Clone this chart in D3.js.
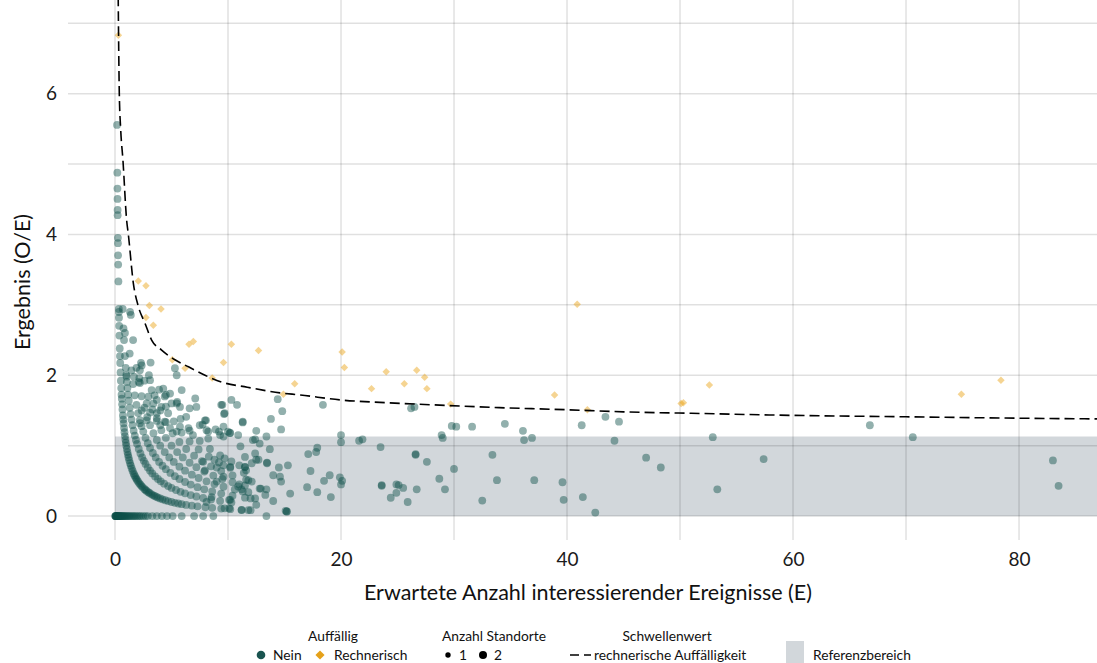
<!DOCTYPE html>
<html><head><meta charset="utf-8">
<script src="https://cdn.jsdelivr.net/npm/d3@7"></script>
<style>
body{margin:0;background:#fff}
svg{display:block}
text{font-family:Lato,"Open Sans",sans-serif}
</style>
</head><body>
<svg id="chart" width="1097" height="663"></svg>
<script>
// ---------------- data ----------------
const xTickValues = [0, 20, 40, 60, 80];
const yTickValues = [0, 2, 4, 6];
const xTitle = "Erwartete Anzahl interessierender Ereignisse (E)";
const yTitle = "Ergebnis (O/E)";

// Reference range (Referenzbereich) for O/E
const refLower = 0;
const refUpper = 1.13;

// "Nein" sites lying on the O/E = n/E curves: expected counts E per observed count O
const obs0E = [0.02,0.04,0.06,0.08,0.1,0.13,0.16,0.19,0.22,0.26,0.3,0.34,0.38,0.43,0.48,0.53,0.6,0.66,0.72,0.8,0.88,0.95,1.05,1.15,1.25,1.35,1.48,1.6,1.72,1.85,2.0,2.15,2.3,2.5,2.7,2.9,3.3,3.7,4.15,4.6,5.1,5.9,7.0,7.8,8.7,13.4];
const obs1E = [0.18,0.205,0.215,0.222,0.23,0.234,0.253,0.258,0.27,0.28,0.3,0.34,0.345,0.355,0.37,0.39,0.42,0.44,0.46,0.49,0.52,0.55,0.58,0.6,0.63,0.66,0.7,0.73,0.76,0.8,0.84,0.88,0.92,0.96,1.0,1.05,1.1,1.15,1.2,1.26,1.33,1.4,1.48,1.56,1.65,1.72,1.8,1.88,1.95,2.05,2.15,2.25,2.35,2.45,2.6,2.7,2.8,2.95,3.05,3.2,3.35,3.5,3.65,3.8,4.0,4.2,4.45,4.7,5.0,5.3,5.6,5.9,6.3,6.8,7.3,8.0,8.6,9.4,10.2,11.2,12.0,15.2];
const obs2E = [0.68,0.75,0.8,0.88,0.95,1.0,1.05,1.1,1.16,1.22,1.3,1.38,1.46,1.55,1.65,1.75,1.85,1.95,2.1,2.25,2.4,2.55,2.7,2.9,3.1,3.3,3.55,3.8,4.05,4.35,4.7,5.0,5.4,5.8,6.2,6.7,7.2,7.8,8.5,9.3,10.3,12.5];
const obs3E = [1.3,1.45,1.6,1.75,1.9,2.05,2.2,2.35,2.5,2.7,2.9,3.1,3.35,3.6,3.9,4.2,4.5,4.9,5.3,5.7,6.2,6.7,7.3,7.9,8.6,9.4,10.4,11.5,14.0];
const obs4E = [1.4,1.6,1.9,2.1,2.35,2.6,2.85,3.1,3.4,3.7,4.0,4.4,4.8,5.2,5.7,6.2,6.8,7.4,8.1,8.8,9.6,10.6,11.8,13.3];
const obs5E = [2.3,2.6,2.95,3.3,3.7,4.1,4.5,5.0,5.5,6.0,6.6,7.2,7.9,8.7,9.5,10.4,11.5,12.8];
const obs6E = [3.0,3.5,4.0,4.5,5.1,5.7,6.3,7.0,7.7,8.5,9.4,10.4,11.6];
const obs7E = [3.9,4.5,5.2,5.9,6.6,7.4,8.3,9.2,10.2,11.4];
const obs8E = [5.0,5.8,6.6,7.5,8.4,9.3,10.3,11.5];
const curveObs = [0, 1, 2, 3, 4, 5, 6, 7, 8];
const curveE = [obs0E, obs1E, obs2E, obs3E, obs4E, obs5E, obs6E, obs7E, obs8E];

// Other "Nein" sites: expected count E and result O/E
const neinE  = [1.33,0.88,2.36,2.2,3.15,2.15,2.2,1.68,1.03,3.1,3.24,4.27,4.87,4.5,5.46,5.3,5.5,5.9,7.1,7.2,6.6,6.3,3.7,3.1,2.8,4.0,2.2,9.4,9.7,10.8,11.3,10.2,9.6,9.3,7.96,7.5,8.25,6.5,6.9,5.75,5.46,4.4,4.7,4.87,3.7,3.4,4.1,3.7,2.8,2.36,4.4,5.46,5.75,
  9.5,10.3,9.65,11.3,8.05,7.75,8.9,9.2,8.1,8.25,10.15,12.5,12.4,12.8,13.4,13.8,14.4,14.8,14.7,13.7,11.1,9.7,8.8,7.8,9.0,7.96,9.6,11.5,12.1,12.7,13.45,13.45,12.4,14.5,15.3,14.0,14.6,14.7,15.5,13.4,12.1,11.0,11.2,12.9,12.0,11.2,11.8,10.1,10.1,15.1,15.2,
  9.6,10.0,10.9,11.5,11.0,11.6,12.2,12.5,11.8,10.9,11.3,12.4,10.2,9.7,8.55,8.1,9.0,9.6,10.2,
  18.4,20.0,20.0,17.1,17.8,17.9,17.3,17.0,17.9,18.5,19.0,19.1,19.9,20.1,20.0,21.6,21.9,23.5,23.6,23.6,24.4,24.9,25.1,24.9,25.5,25.9,26.2,26.5,26.6,26.6,26.7,27.6,28.7,28.9,29.0,29.2,29.8,30.2,30.0,31.6,32.5,33.4,33.8,34.5,36.1,36.2,36.9,37.1,39.6,39.7,41.3,41.4,42.5,43.4,44.2,44.6,47.0,48.3,
  52.9,53.3,57.4,66.8,70.6,83.0,83.5];
const neinOE = [2.9,2.6,2.14,2.07,2.18,1.96,1.89,1.98,1.98,1.93,1.79,1.81,1.74,1.72,2.0,2.1,1.62,1.79,1.67,1.55,1.53,1.41,1.46,1.47,1.36,1.29,1.32,1.58,1.46,1.58,1.34,1.18,1.27,1.15,1.36,1.29,1.2,1.25,1.15,1.27,1.2,1.34,1.46,1.25,1.39,1.6,1.55,1.65,1.6,1.5,1.7,1.6,1.55,
  1.58,1.65,1.45,1.33,1.36,1.3,1.23,1.2,1.22,1.1,1.18,1.21,1.09,1.03,1.13,1.38,1.66,1.49,1.23,0.95,0.99,0.82,0.8,0.77,0.69,0.65,0.72,0.7,0.75,0.8,0.75,0.76,0.89,0.69,0.72,0.58,0.56,0.49,0.32,0.38,0.49,0.45,0.38,0.39,0.25,0.085,0.085,0.23,0.11,0.075,0.065,
  1.13,1.2,1.15,0.84,0.72,0.65,1.08,0.8,0.51,0.42,0.35,0.25,0.23,0.11,0.27,0.2,0.49,0.56,0.7,
  1.58,1.15,1.05,0.88,0.91,0.97,0.64,0.41,0.34,0.5,0.58,0.27,0.55,0.5,0.45,1.07,1.09,0.98,0.43,0.44,0.26,0.45,0.44,0.33,0.4,0.2,1.53,1.55,0.87,0.88,0.38,0.77,0.53,1.15,1.11,0.38,1.28,1.27,0.67,1.27,0.22,0.87,0.51,1.31,1.21,1.08,1.11,0.51,0.48,0.23,1.29,0.27,0.05,1.41,1.07,1.34,0.83,0.69,
  1.12,0.38,0.81,1.29,1.12,0.79,0.43];

// "Rechnerisch" (statistically conspicuous) sites
const auffE  = [0.3,2.06,2.74,3.04,4.07,2.74,3.39,6.55,6.93,5.07,6.2,8.6,10.3,12.7,9.6,15.9,14.9,20.1,20.3,22.7,24.0,25.6,26.7,27.4,27.6,29.7,38.9,40.9,41.8,50.1,50.3,52.6,74.9,78.4];
const auffOE = [6.83,3.34,3.27,2.99,2.94,2.82,2.71,2.44,2.48,2.22,2.1,1.96,2.44,2.35,2.18,1.88,1.73,2.33,2.11,1.81,2.05,1.88,2.07,1.97,1.81,1.59,1.72,3.01,1.51,1.6,1.61,1.86,1.73,1.93];

// Threshold (Schwellenwert) for rechnerische Auffälligkeit
const threshE  = [0.27,0.33,0.38,0.5,0.7,1.03,1.18,1.62,2.06,2.65,3.24,4.1,5.3,6.5,7.96,9.5,11.7,14.6,16.4,19.9,24,28.1,34,40,45,51,60,70,80,86.9];
const threshOE = [7.6,6.6,6.0,5.5,5.06,4.2,4.0,3.31,2.98,2.74,2.5,2.36,2.22,2.12,2.0,1.9,1.83,1.75,1.72,1.65,1.61,1.58,1.54,1.51,1.48,1.46,1.43,1.41,1.39,1.38];

// ---------------- drawing ----------------
const panel = {left: 68, right: 1097, top: 0, bottom: 540};
const svg = d3.select('#chart');

const x = d3.scaleLinear().domain([-4.16, 86.9]).range([panel.left, panel.right]);
const y = d3.scaleLinear().domain([-0.34, 7.33]).range([panel.bottom, panel.top]);

svg.append('defs').append('clipPath').attr('id', 'clip')
  .append('rect').attr('x', panel.left).attr('y', panel.top)
  .attr('width', panel.right - panel.left).attr('height', panel.bottom - panel.top);

// reference band
svg.append('rect')
  .attr('x', x(0)).attr('y', y(refUpper))
  .attr('width', x.range()[1] - x(0))
  .attr('height', y(refLower) - y(refUpper))
  .attr('fill', '#d2d7db');

// grid lines (semi transparent so they darken over the band)
const grid = svg.append('g').attr('stroke', 'rgba(0,0,0,0.12)').attr('stroke-width', 1.5);
grid.selectAll('.gx').data(x.ticks(10)).join('line')
  .attr('x1', d => x(d)).attr('x2', d => x(d))
  .attr('y1', panel.top).attr('y2', panel.bottom);
grid.selectAll('.gy').data(y.ticks(8)).join('line')
  .attr('y1', d => y(d)).attr('y2', d => y(d))
  .attr('x1', panel.left).attr('x2', panel.right);

// axes
const xAxis = svg.append('g').attr('transform', `translate(0,${panel.bottom})`)
  .call(d3.axisBottom(x).tickValues(xTickValues).tickSize(0).tickPadding(13).tickFormat(d3.format('d')));
const yAxis = svg.append('g').attr('transform', `translate(${panel.left},0)`)
  .call(d3.axisLeft(y).tickValues(yTickValues).tickSize(0).tickPadding(11).tickFormat(d3.format('d')));
[xAxis, yAxis].forEach(a => {
  a.select('.domain').remove();
  a.selectAll('text').attr('font-size', 19).attr('fill', '#1a1a1a').style('font-family', 'Lato');
});

svg.append('text').attr('x', 588).attr('y', 600).attr('text-anchor', 'middle')
  .attr('font-size', 21.5).attr('fill', '#111').text(xTitle);
svg.append('text').attr('transform', 'translate(30,282) rotate(-90)').attr('text-anchor', 'middle')
  .attr('font-size', 21.5).attr('fill', '#111').text(yTitle);

// points
const plot = svg.append('g').attr('clip-path', 'url(#clip)');
const neinPts = [];
curveObs.forEach((o, i) => curveE[i].forEach(e => neinPts.push([e, o / e])));
neinE.forEach((e, i) => neinPts.push([e, neinOE[i]]));

const neinColor = '#0d4f4a';
const auffColor = '#e8a00e';

plot.append('g').selectAll('circle').data(neinPts).join('circle')
  .attr('cx', d => x(d[0])).attr('cy', d => y(d[1])).attr('r', 3.9)
  .attr('fill', neinColor).attr('fill-opacity', 0.45);

const diamond = d3.symbol().type(d3.symbolSquare).size(28);
plot.append('g').selectAll('path').data(auffE.map((e, i) => [e, auffOE[i]])).join('path')
  .attr('d', diamond)
  .attr('transform', d => `translate(${x(d[0])},${y(d[1])}) rotate(45)`)
  .attr('fill', auffColor).attr('fill-opacity', 0.45);

// threshold line
plot.append('path')
  .datum(threshE.map((e, i) => [e, threshOE[i]]))
  .attr('d', d3.line().x(d => x(d[0])).y(d => y(d[1])).curve(d3.curveMonotoneX))
  .attr('fill', 'none').attr('stroke', '#000').attr('stroke-width', 1.6)
  .attr('stroke-dasharray', '10,5');

// ---------------- legend ----------------
const lg = svg.append('g').attr('font-size', 13.8).attr('fill', '#111');
const titleY = 641, itemY = 655;
lg.append('text').attr('x', 333).attr('y', titleY).attr('text-anchor', 'middle').text('Auffällig');
lg.append('circle').attr('cx', 261).attr('cy', itemY).attr('r', 4.3).attr('fill', '#1a5450');
lg.append('text').attr('x', 273).attr('y', itemY + 5).text('Nein');
lg.append('path').attr('d', d3.symbol().type(d3.symbolSquare).size(42))
  .attr('transform', `translate(320,${itemY}) rotate(45)`).attr('fill', '#e5a11a');
lg.append('text').attr('x', 334).attr('y', itemY + 5).text('Rechnerisch');

lg.append('text').attr('x', 494).attr('y', titleY).attr('text-anchor', 'middle').text('Anzahl Standorte');
lg.append('circle').attr('cx', 448).attr('cy', itemY).attr('r', 2.7).attr('fill', '#000');
lg.append('text').attr('x', 459).attr('y', itemY + 5).text('1');
lg.append('circle').attr('cx', 483).attr('cy', itemY).attr('r', 4.0).attr('fill', '#000');
lg.append('text').attr('x', 494).attr('y', itemY + 5).text('2');

lg.append('text').attr('x', 667).attr('y', titleY).attr('text-anchor', 'middle').text('Schwellenwert');
lg.append('line').attr('x1', 570).attr('x2', 591).attr('y1', itemY).attr('y2', itemY)
  .attr('stroke', '#000').attr('stroke-width', 1.6).attr('stroke-dasharray', '9,5');
lg.append('text').attr('x', 594).attr('y', itemY + 5).text('rechnerische Auffälligkeit');

lg.append('rect').attr('x', 786).attr('y', 641).attr('width', 18).attr('height', 22).attr('fill', '#d2d7db');
lg.append('text').attr('x', 813).attr('y', itemY + 5).text('Referenzbereich');
</script>
</body></html>
